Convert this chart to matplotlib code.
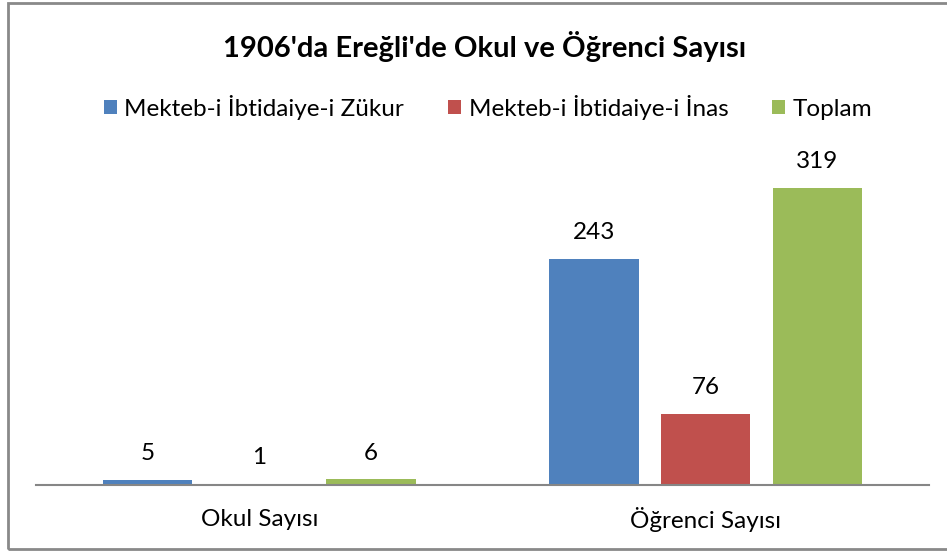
import matplotlib
matplotlib.use("Agg")
import matplotlib.pyplot as plt
from matplotlib.patches import Rectangle
import numpy as np

plt.rcParams['font.family'] = ['Lato', 'DejaVu Sans']

title = "1906'da Ereğli'de Okul ve Öğrenci Sayısı"
categories = ["Okul Sayısı", "Öğrenci Sayısı"]
series_names = ["Mekteb-i İbtidaiye-i Zükur", "Mekteb-i İbtidaiye-i İnas", "Toplam"]
zukur = [5, 243]
inas = [1, 76]
toplam = [6, 319]
colors = ["#4F81BD", "#C0504D", "#9BBB59"]

fig = plt.figure(figsize=(9.47, 5.51), dpi=100)
ax = fig.add_axes([36/947, 66/551, 893/947, 326/551])

x = np.arange(len(categories))
width = 0.2
offsets = [-0.25, 0, 0.25]
handles = []
for vals, name, col, off in zip([zukur, inas, toplam], series_names, colors, offsets):
    bars = ax.bar(x + off, vals, width, color=col, label=name)
    handles.append(bars)
    for xi, v in zip(x + off, vals):
        ax.annotate(str(v), (xi, v), xytext=(0, 19), textcoords='offset points',
                    ha='center', va='center', fontsize=17.5, color='black')

ax.set_xlim(-0.5, 1.5)
ax.set_ylim(0, 350)
ax.set_yticks([])
ax.set_xticks(x)
ax.set_xticklabels(categories, fontsize=17.5, va='center')
ax.tick_params(axis='x', length=0, pad=25)
for s in ['top', 'right', 'left']:
    ax.spines[s].set_visible(False)
ax.spines['bottom'].set_color('#868686')
ax.spines['bottom'].set_linewidth(1.5)

fig.text(485/947, 1 - 46/551, title, ha='center', va='center', fontsize=21, fontweight='bold')
leg = fig.legend(handles, series_names, loc='center', bbox_to_anchor=(488/947, 1 - 107/551),
                 ncol=3, frameon=False, fontsize=17.5, handlelength=0.55, handleheight=0.55,
                 handletextpad=0.3, columnspacing=1.8)

fig.patches.append(Rectangle((8/947, 2/551), 1.2, 546/551, transform=fig.transFigure,
                             fill=False, edgecolor='#898989', linewidth=2, clip_on=False))

fig.savefig("out.png", dpi=100)
